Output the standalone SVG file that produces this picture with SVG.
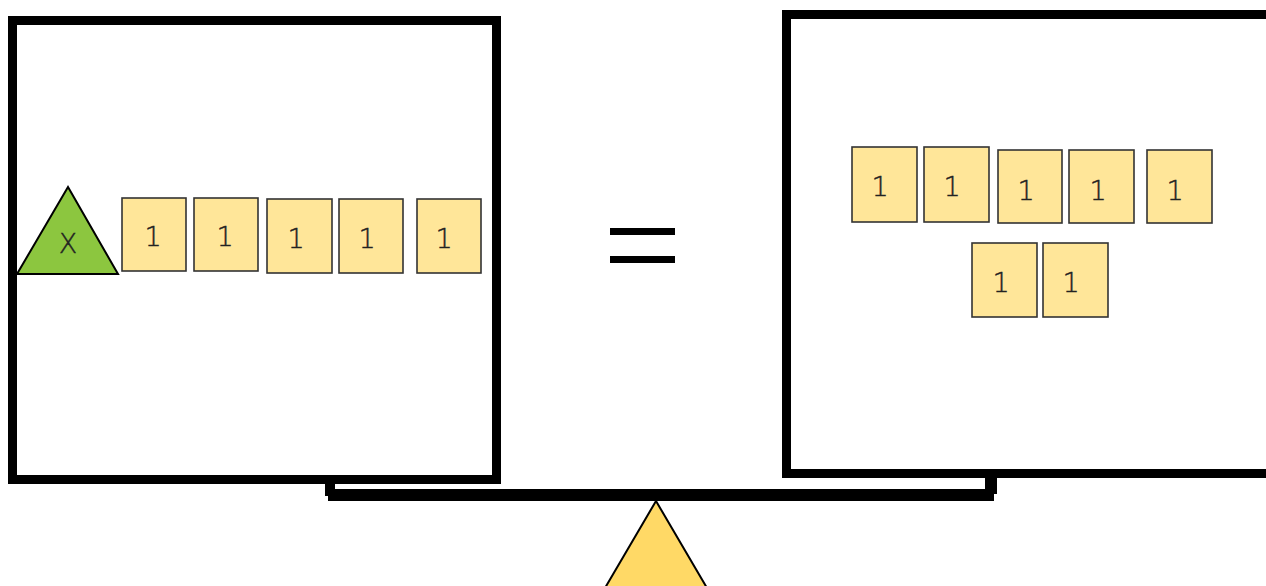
<svg xmlns="http://www.w3.org/2000/svg" width="1266" height="586" viewBox="0 0 1266 586">
<style>
.pan{fill:#fff;stroke:#000;stroke-width:9}
.unit{fill:#FFE699;stroke:#333;stroke-width:1.6}
.t{font-family:"DejaVu Sans","Liberation Sans",sans-serif;font-size:27px;font-weight:200;fill:#222;stroke:#222;stroke-width:0.4;text-anchor:middle;dominant-baseline:central}
.bar{fill:#000}
</style>
<g id="left-pan"><rect class="pan" x="12.5" y="20.5" width="484" height="459"/></g>
<g id="right-pan"><rect class="pan" x="786.5" y="14.5" width="500" height="459"/></g>
<g id="beam">
<rect class="bar" x="325" y="478" width="10" height="18"/>
<rect class="bar" x="985" y="472" width="12" height="22"/>
<rect class="bar" x="328" y="489" width="666" height="12"/>
</g>
<g id="fulcrum"><polygon points="656,501 605,588 707,588" fill="#FFD966" stroke="#000" stroke-width="2"/></g>
<g id="equals">
<rect class="bar" x="610" y="228" width="65" height="7"/>
<rect class="bar" x="610" y="256" width="65" height="7"/>
</g>
<g id="x-triangle"><polygon points="68,187 17,274 118,274" fill="#8CC63F" stroke="#000" stroke-width="2"/><text class="t" x="68" y="243">X</text></g>
<g id="l1"><rect class="unit" x="122" y="198" width="64" height="73"/><text class="t" x="153" y="236">1</text></g>
<g id="l2"><rect class="unit" x="194" y="198" width="64" height="73"/><text class="t" x="225" y="236">1</text></g>
<g id="l3"><rect class="unit" x="267" y="199" width="65" height="74"/><text class="t" x="296" y="238">1</text></g>
<g id="l4"><rect class="unit" x="339" y="199" width="64" height="74"/><text class="t" x="367" y="238">1</text></g>
<g id="l5"><rect class="unit" x="417" y="199" width="64" height="74"/><text class="t" x="444" y="238">1</text></g>
<g id="r1"><rect class="unit" x="852" y="147" width="65" height="75"/><text class="t" x="880" y="186">1</text></g>
<g id="r2"><rect class="unit" x="924" y="147" width="65" height="75"/><text class="t" x="952" y="186">1</text></g>
<g id="r3"><rect class="unit" x="998" y="150" width="64" height="73"/><text class="t" x="1026" y="190">1</text></g>
<g id="r4"><rect class="unit" x="1069" y="150" width="65" height="73"/><text class="t" x="1098" y="190">1</text></g>
<g id="r5"><rect class="unit" x="1147" y="150" width="65" height="73"/><text class="t" x="1175" y="190">1</text></g>
<g id="r6"><rect class="unit" x="972" y="243" width="65" height="74"/><text class="t" x="1001" y="282">1</text></g>
<g id="r7"><rect class="unit" x="1043" y="243" width="65" height="74"/><text class="t" x="1071" y="282">1</text></g>
</svg>
